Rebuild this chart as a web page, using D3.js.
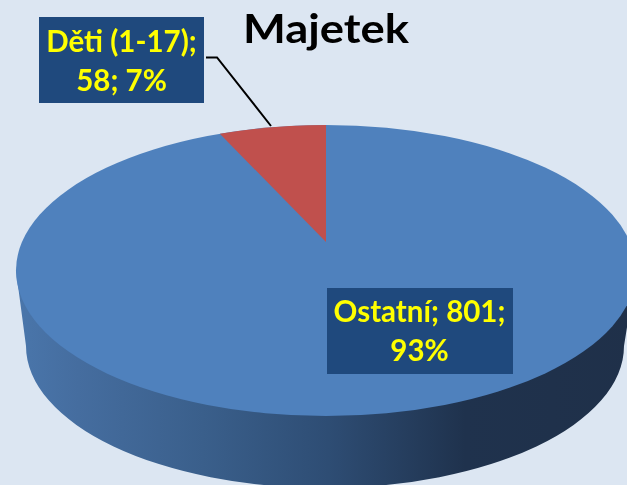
<!DOCTYPE html>
<html><head><meta charset="utf-8">
<style>html,body{margin:0;padding:0;background:#dce6f2;overflow:hidden}svg{display:block}</style>
<script src="https://cdn.jsdelivr.net/npm/d3@7"></script></head>
<body><script>
const categories = ["Ostatní", "Děti (1-17)"];
const values = [801, 58];
const percents = ["93%", "7%"];
const sliceColors = ["#4f81bd", "#c0504d"];
const title = "Majetek";

const W = 627, H = 485;
const font = "Lato, Carlito, 'Open Sans', sans-serif";
const svg = d3.select("body").append("svg").attr("width", W).attr("height", H);
svg.append("rect").attr("width", W).attr("height", H).attr("fill", "#dce6f2");

const defs = svg.append("defs");
defs.append("filter").attr("id", "soft").append("feGaussianBlur").attr("stdDeviation", 0.5);
const g = defs.append("linearGradient").attr("id", "wall").attr("gradientUnits", "userSpaceOnUse")
  .attr("x1", 16).attr("x2", 640).attr("y1", 0).attr("y2", 0);
[[0, "#4a76ab"], [0.1, "#456d9f"], [0.3, "#3a5f8b"], [0.5, "#2e4d74"], [0.72, "#1f324d"], [1, "#1f3049"]]
  .forEach(([o, c]) => g.append("stop").attr("offset", o).attr("stop-color", c));

// Disk coordinates -> pixels
const x = d3.scaleLinear().domain([-1, 1]).range([16, 636]);
const y = d3.scaleLinear().domain([-1, 1]).range([416, 125]);
const rx = (x(1) - x(-1)) / 2, ry = (y(-1) - y(1)) / 2;
// Perspective: the pie's centre sits above the ellipse's centre
const beta = 0.196;
const project = a => {
  const u = Math.sin(a), v = Math.cos(a), d = 1 + beta * v;
  return [x(u * Math.sqrt(1 - beta * beta) / d), y((v + beta) / d)];
};
const apex = [x(0), y(beta)];

// Side wall
const xLow = d3.scaleLinear().domain([-1, 1]).range([26, 624]);
const yLow = d3.scaleLinear().domain([-1, 1]).range([488, 204]);
const p = d3.path();
p.moveTo(x(-1), y(0));
p.lineTo(xLow(-1), yLow(0));
const lowRx = (xLow(1) - xLow(-1)) / 2, lowRy = (yLow(-1) - yLow(1)) / 2;
const wallPath = `${p.toString()}A${lowRx},${lowRy} 0 0 0 ${xLow(1)},${yLow(0)}L${x(1)},${y(0)}Z`;
svg.append("path").attr("d", wallPath).attr("fill", "url(#wall)");

// Top face
svg.append("ellipse").attr("cx", x(0)).attr("cy", y(0)).attr("rx", rx).attr("ry", ry).attr("fill", sliceColors[0]);
const arcs = d3.pie().sort(null)(values);
const d = arcs[1];
const s = project(d.startAngle), e = project(d.endAngle);
svg.append("path")
  .attr("d", `M${apex}L${s}A${rx},${ry} 0 0 1 ${e}Z`)
  .attr("fill", sliceColors[1]);

// Leader line
svg.append("path").attr("d", d3.line()([[206, 57.5], [217, 57.5], [271, 126]]))
  .attr("fill", "none").attr("stroke", "#000").attr("stroke-width", 2);

// Labels
const labelBoxes = [
  {i: 0, x0: 327, y0: 288, x1: 513, y1: 374, base: 322, lines: [`${categories[0]}; ${values[0]};`, percents[0]]},
  {i: 1, x0: 39, y0: 17, x1: 204, y1: 103, base: 52, lines: [`${categories[1]};`, `${values[1]}; ${percents[1]}`]}
];
labelBoxes.forEach(b => {
  svg.append("rect").attr("x", b.x0).attr("y", b.y0).attr("width", b.x1 - b.x0).attr("height", b.y1 - b.y0).attr("fill", "#1f497d");
  b.lines.forEach((t, k) => svg.append("text")
    .attr("x", (b.x0 + b.x1) / 2 - (b.i ? 0 : 0.5)).attr("y", b.base + k * 38.5)
    .attr("text-anchor", "middle").attr("font-family", font).attr("font-weight", 700)
    .attr("font-size", 29.5).attr("fill", "#ffff00").attr("filter", "url(#soft)").text(t));
});

svg.append("text").attr("x", 326).attr("y", 43).attr("text-anchor", "middle")
  .attr("font-family", font).attr("font-weight", 700).attr("font-size", 41)
  .attr("textLength", 166).attr("lengthAdjust", "spacingAndGlyphs").attr("fill", "#000")
  .attr("filter", "url(#soft)").text(title);
</script></body></html>
